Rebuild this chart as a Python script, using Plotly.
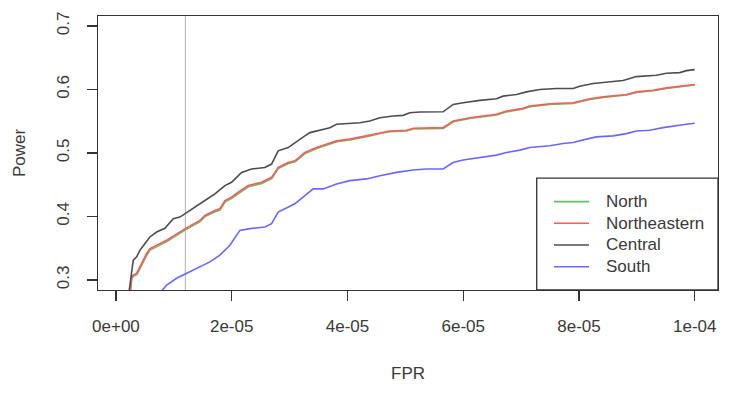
import plotly.graph_objects as go

# ---- data (FPR in units of 1e-5, power) ----
central_fpr = [0.219, 0.299, 0.358, 0.415, 0.587, 0.703, 0.846, 0.990, 1.105, 1.197, 1.451, 1.537,
               1.710, 1.883, 1.998, 2.171, 2.344, 2.573, 2.689, 2.803, 2.976, 3.092, 3.264, 3.351,
               3.523, 3.696, 3.812, 4.041, 4.214, 4.387, 4.560, 4.789, 4.962, 5.078, 5.250, 5.653,
               5.826, 5.998, 6.287, 6.575, 6.689, 6.921, 7.093, 7.323, 7.611, 7.898, 8.014, 8.244,
               8.475, 8.762, 8.993, 9.339, 9.511, 9.741, 9.857, 10.0]
central_pow = [0.2765, 0.3313, 0.3365, 0.3469, 0.3678, 0.3756, 0.3814, 0.3966, 0.3991, 0.4044, 0.4200, 0.4252,
               0.4357, 0.4487, 0.4538, 0.4695, 0.4748, 0.4773, 0.4826, 0.5034, 0.5086, 0.5164, 0.5269, 0.5321,
               0.5358, 0.5399, 0.5452, 0.5462, 0.5477, 0.5504, 0.5556, 0.5582, 0.5593, 0.5634, 0.5645, 0.5649,
               0.5765, 0.5790, 0.5828, 0.5853, 0.5895, 0.5922, 0.5962, 0.6000, 0.6016, 0.6016, 0.6052, 0.6094,
               0.6119, 0.6141, 0.6203, 0.6224, 0.6255, 0.6266, 0.6297, 0.6313]

northeastern_fpr = [0.242, 0.271, 0.299, 0.358, 0.530, 0.587, 0.876, 1.105, 1.197, 1.451, 1.537, 1.710,
                    1.796, 1.883, 1.998, 2.112, 2.285, 2.516, 2.689, 2.803, 2.976, 3.092, 3.264, 3.466,
                    3.639, 3.812, 4.041, 4.330, 4.560, 4.732, 5.021, 5.135, 5.653, 5.826, 6.114, 6.575,
                    6.748, 7.035, 7.150, 7.496, 7.898, 8.187, 8.416, 8.820, 8.993, 9.280, 9.511, 9.741, 10.0]
northeastern_pow = [0.2765, 0.3052, 0.3078, 0.3105, 0.3418, 0.3496, 0.3626, 0.3756, 0.3809, 0.3939, 0.4017, 0.4095,
                    0.4122, 0.4252, 0.4304, 0.4382, 0.4487, 0.4538, 0.4617, 0.4773, 0.4851, 0.4878, 0.5008, 0.5086,
                    0.5139, 0.5191, 0.5218, 0.5269, 0.5321, 0.5347, 0.5358, 0.5390, 0.5399, 0.5504, 0.5556, 0.5609,
                    0.5660, 0.5703, 0.5739, 0.5775, 0.5790, 0.5853, 0.5884, 0.5922, 0.5962, 0.5989, 0.6025, 0.6052, 0.6078]

north_fpr = [0.245, 0.275, 0.303, 0.362, 0.535, 0.590, 0.880, 1.108, 1.200, 1.455, 1.540, 1.713,
             1.800, 1.887, 2.001, 2.116, 2.289, 2.520, 2.692, 2.806, 2.980, 3.096, 3.268, 3.470,
             3.643, 3.816, 4.045, 4.334, 4.564, 4.736, 5.025, 5.139, 5.657, 5.830, 6.118, 6.579,
             6.752, 7.039, 7.154, 7.500, 7.902, 8.191, 8.420, 8.824, 8.997, 9.284, 9.515, 9.745, 10.0]
north_pow = [0.2765, 0.3030, 0.3058, 0.3085, 0.3395, 0.3472, 0.3604, 0.3735, 0.3790, 0.3918, 0.3998, 0.4075,
             0.4103, 0.4232, 0.4285, 0.4362, 0.4468, 0.4520, 0.4598, 0.4755, 0.4835, 0.4862, 0.4992, 0.5070,
             0.5124, 0.5177, 0.5204, 0.5255, 0.5308, 0.5334, 0.5346, 0.5378, 0.5387, 0.5492, 0.5544, 0.5598,
             0.5648, 0.5692, 0.5728, 0.5765, 0.5780, 0.5843, 0.5874, 0.5913, 0.5953, 0.5980, 0.6016, 0.6044, 0.6072]

south_fpr = [0.777, 0.876, 1.048, 1.197, 1.451, 1.623, 1.796, 1.969, 2.142, 2.314, 2.573, 2.689,
             2.803, 2.976, 3.092, 3.264, 3.408, 3.580, 3.812, 4.041, 4.330, 4.560, 4.848, 5.135,
             5.366, 5.653, 5.826, 5.998, 6.344, 6.575, 6.748, 6.978, 7.150, 7.496, 7.725, 7.898,
             8.130, 8.302, 8.589, 8.820, 8.993, 9.223, 9.453, 9.626, 9.857, 10.0]
south_pow = [0.2812, 0.2922, 0.3027, 0.3094, 0.3208, 0.3286, 0.3391, 0.3548, 0.3782, 0.3809, 0.3834, 0.3887,
             0.4069, 0.4147, 0.4200, 0.4330, 0.4435, 0.4435, 0.4513, 0.4565, 0.4592, 0.4643, 0.4695, 0.4732,
             0.4748, 0.4748, 0.4851, 0.4889, 0.4930, 0.4967, 0.5008, 0.5045, 0.5086, 0.5113, 0.5149, 0.5164,
             0.5218, 0.5254, 0.5269, 0.5305, 0.5347, 0.5358, 0.5399, 0.5426, 0.5452, 0.5468]

series_names = ["North", "Northeastern", "Central", "South"]
series_colors = ["#66bf66", "#ff5a5a", "#4d4d4d", "#6868ff"]
vline_fpr = 1.2  # units of 1e-5

x_tickvals = [0, 2, 4, 6, 8, 10]
x_ticktext = ["0e+00", "2e-05", "4e-05", "6e-05", "8e-05", "1e-04"]
y_tickvals = [0.3, 0.4, 0.5, 0.6, 0.7]
y_ticktext = ["0.3", "0.4", "0.5", "0.6", "0.7"]

SCALE = 1e-5
FONT = "Liberation Sans, Arial, sans-serif"
TXT = "#3a3a3a"

W, H = 748, 409
ML, MR, MT, MB = 98, 30, 14, 119
PW, PH = W - ML - MR, H - MT - MB


def px2x(px):
    return (px - ML) / PW


def py2y(py):
    return (H - MB - py) / PH


fig = go.Figure()

data = {
    "North": (north_fpr, north_pow),
    "Northeastern": (northeastern_fpr, northeastern_pow),
    "Central": (central_fpr, central_pow),
    "South": (south_fpr, south_pow),
}
for name, col in zip(series_names, series_colors):
    xs, ys = data[name]
    fig.add_trace(go.Scatter(
        x=[v * SCALE for v in xs], y=ys, mode="lines", name=name,
        line=dict(color=col, width=1.6, shape="linear"), showlegend=False,
        hoverinfo="skip"))

# vertical reference line
fig.add_shape(type="line", xref="x", yref="paper", x0=vline_fpr * SCALE, x1=vline_fpr * SCALE,
              y0=0, y1=1, line=dict(color="#bdbdbd", width=1.2), layer="below")

# manual R-style legend (bottom-right)
fig.add_shape(type="rect", xref="paper", yref="paper",
              x0=px2x(536.7), x1=1, y0=0, y1=py2y(177.3),
              line=dict(color="#333333", width=1.3), fillcolor="white", layer="above")
row_y = [201.0, 222.8, 244.6, 266.6]
for name, col, ry in zip(series_names, series_colors, row_y):
    fig.add_shape(type="line", xref="paper", yref="paper",
                  x0=px2x(554), x1=px2x(589), y0=py2y(ry), y1=py2y(ry),
                  line=dict(color=col, width=1.6), layer="above")
    fig.add_annotation(xref="paper", yref="paper", x=px2x(604), y=py2y(ry),
                       text=name, showarrow=False, xanchor="left", yanchor="middle",
                       font=dict(family=FONT, size=17, color=TXT))

axis_common = dict(
    showgrid=False, zeroline=False, showline=True, mirror=True,
    linecolor="#333333", linewidth=1.3, ticks="outside", ticklen=10,
    tickcolor="#333333", tickwidth=1.3,
    tickfont=dict(family=FONT, size=17, color=TXT),
)

fig.update_layout(
    width=W, height=H,
    margin=dict(l=ML, r=MR, t=MT, b=MB),
    paper_bgcolor="white", plot_bgcolor="white",
    xaxis=dict(range=[-0.31 * SCALE, 10.402 * SCALE],
               tickvals=[v * SCALE for v in x_tickvals], ticktext=x_ticktext,
               ticklabelstandoff=10,
               title=dict(text="FPR", font=dict(family=FONT, size=17, color=TXT), standoff=32),
               **axis_common),
    yaxis=dict(range=[0.2843, 0.7157], tickvals=y_tickvals, ticktext=y_ticktext,
               tickangle=-90, ticklabelstandoff=11,
               title=dict(text="Power", font=dict(family=FONT, size=17, color=TXT), standoff=24),
               **axis_common),
    showlegend=False,
)

fig.write_html("out.html", config={"displayModeBar": False, "staticPlot": True},
               post_script="document.body.style.margin='0';document.body.style.overflow='hidden';")
